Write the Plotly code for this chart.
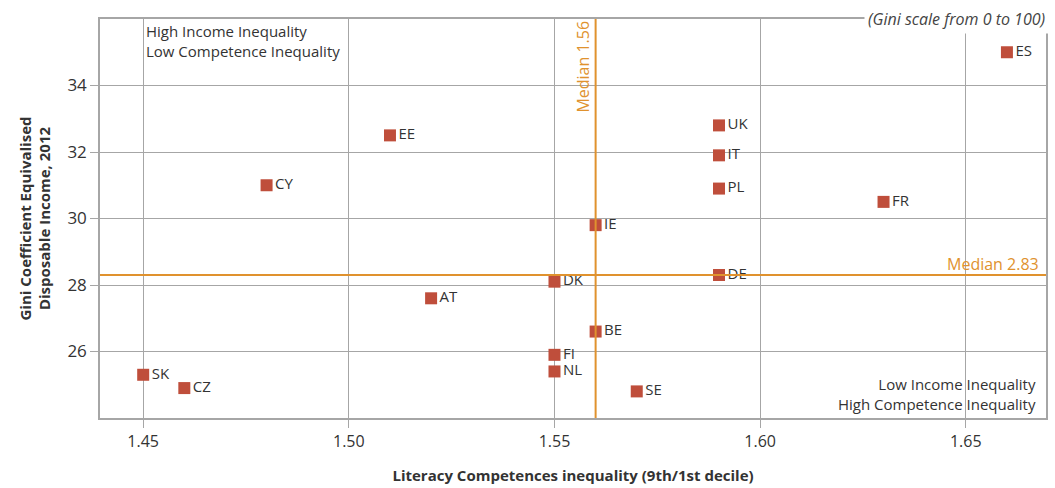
import plotly.graph_objects as go

# Country codes and values
countries = ["SK", "CZ", "CY", "EE", "AT", "DK", "FI", "NL", "IE", "BE",
             "SE", "UK", "IT", "PL", "DE", "FR", "ES"]
literacy_ratio = [1.45, 1.46, 1.48, 1.51, 1.52, 1.55, 1.55, 1.55, 1.56, 1.56,
                  1.57, 1.59, 1.59, 1.59, 1.59, 1.63, 1.66]
gini = [25.3, 24.9, 31.0, 32.5, 27.6, 28.1, 25.9, 25.4, 29.8, 26.6,
        24.8, 32.8, 31.9, 30.9, 28.3, 30.5, 35.0]

median_x = 1.56
median_y = 28.3

x_ticks = [1.45, 1.50, 1.55, 1.60, 1.65]
y_ticks = [26, 28, 30, 32, 34]

MARKER = "#bf4e3b"
MEDIAN = "#e0922e"
GRID = "#a6a6a6"
TEXT = "#333333"
FONT = "Open Sans"

fig = go.Figure()

fig.add_trace(go.Scatter(
    x=literacy_ratio,
    y=gini,
    mode="markers+text",
    text=countries,
    textposition="middle right",
    textfont=dict(size=15, color=TEXT, family=FONT),
    marker=dict(symbol="square", size=12, color=MARKER),
    cliponaxis=False,
    showlegend=False,
    hoverinfo="x+y+text",
))

# Median lines
fig.add_shape(type="line", xref="x", yref="paper", x0=median_x, x1=median_x,
              y0=0, y1=1, line=dict(color=MEDIAN, width=2))
fig.add_shape(type="line", xref="paper", yref="y", x0=0, x1=1,
              y0=median_y, y1=median_y, line=dict(color=MEDIAN, width=2))

fig.add_annotation(x=median_x, y=1, xref="x", yref="paper", text="Median 1.56",
                   textangle=-90, showarrow=False, xanchor="right", yanchor="top",
                   xshift=0, yshift=0,
                   font=dict(size=16, color=MEDIAN, family=FONT))
fig.add_annotation(x=1, y=median_y, xref="paper", yref="y", text="Median 2.83",
                   showarrow=False, xanchor="right", yanchor="bottom",
                   xshift=-5, yshift=-2,
                   font=dict(size=16, color=MEDIAN, family=FONT))

# Quadrant notes
fig.add_annotation(x=1.4502, y=1, xref="x", yref="paper",
                   text="High Income Inequality<br>Low Competence Inequality",
                   showarrow=False, xanchor="left", yanchor="top", align="left",
                   yshift=0,
                   font=dict(size=15, color=TEXT, family=FONT))
fig.add_annotation(x=1, y=0, xref="paper", yref="paper",
                   text="Low Income Inequality<br>High Competence Inequality",
                   showarrow=False, xanchor="right", yanchor="bottom", align="right",
                   xshift=-8, yshift=2,
                   font=dict(size=15, color=TEXT, family=FONT))

# Scale note sitting on the top frame
fig.add_annotation(x=1, y=1, xref="paper", yref="paper",
                   text="<i>(Gini scale from 0 to 100)</i>",
                   showarrow=False, xanchor="right", yanchor="middle",
                   xshift=3, yshift=0, bgcolor="white", borderpad=3,
                   font=dict(size=16, color="#444444", family=FONT))

fig.update_layout(
    width=1055,
    height=488,
    margin=dict(l=100, r=9, t=19, b=70),
    plot_bgcolor="white",
    paper_bgcolor="white",
    font=dict(family=FONT, color=TEXT),
)

fig.update_xaxes(
    range=[1.4395, 1.6695],
    tickvals=x_ticks,
    ticktext=[f"{v:.2f}" for v in x_ticks],
    tickfont=dict(size=16, color=TEXT),
    showgrid=True, gridcolor=GRID, gridwidth=1,
    showline=True, linecolor=GRID, linewidth=1.5, mirror=True,
    ticks="outside", ticklen=8, tickcolor=GRID,
    zeroline=False, automargin=False,
    title=dict(text="<b>Literacy Competences inequality (9th/1st decile)</b>",
               font=dict(size=15, color=TEXT), standoff=20),
)
fig.update_yaxes(
    range=[24, 36],
    tickvals=y_ticks,
    tickfont=dict(size=17, color=TEXT),
    showgrid=True, gridcolor=GRID, gridwidth=1,
    showline=True, linecolor=GRID, linewidth=1.5, mirror=True,
    ticks="outside", ticklen=8, tickcolor=GRID,
    zeroline=False, automargin=False,
    title=dict(text="<b>Gini Coefficient Equivalised<br>Disposable Income, 2012</b>",
               font=dict(size=15, color=TEXT), standoff=13),
)

# the page's default body margin would shift the figure by 8px
fig.write_html("out.html", config={"displayModeBar": False},
               post_script="document.body.style.margin='0';")
